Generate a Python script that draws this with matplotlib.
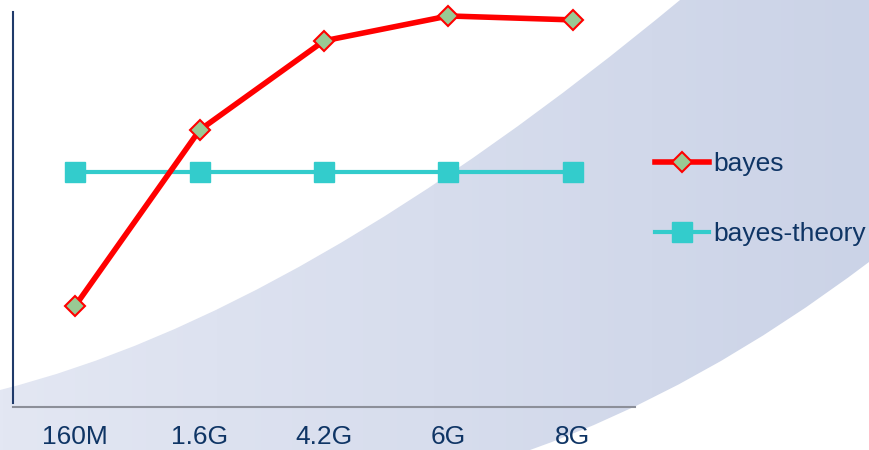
import matplotlib.pyplot as plt
import numpy as np
from matplotlib.path import Path
from matplotlib.patches import PathPatch

# sample sizes along the x axis
sizes = ["160M", "1.6G", "4.2G", "6G", "8G"]
# measured and theoretical values for each size
bayes = [25.6, 70.1, 92.7, 99.0, 98.0]
bayes_theory = [59.5, 59.5, 59.5, 59.5, 59.5]

W, H = 869, 450
fig = plt.figure(figsize=(W / 100, H / 100), dpi=100)
fig.patch.set_facecolor("white")

# background swoosh: a pale blue band sweeping up from the lower left
bg = fig.add_axes([0, 0, 1, 1], zorder=0)
bg.set_xlim(0, W)
bg.set_ylim(H, 0)
bg.axis("off")
verts = [(0, 390), (300, 315), (680, 0),
         (W, 0), (W, 262),
         (700, 390), (530, H),
         (0, H), (0, 390)]
codes = [Path.MOVETO, Path.CURVE3, Path.CURVE3,
         Path.LINETO, Path.LINETO,
         Path.CURVE3, Path.CURVE3,
         Path.LINETO, Path.CLOSEPOLY]
band = PathPatch(Path(verts, codes), facecolor="none", edgecolor="none")
bg.add_patch(band)
left_c = np.array([0xe3, 0xe7, 0xf3]) / 255
right_c = np.array([0xcb, 0xd3, 0xe7]) / 255
t = np.linspace(0, 1, 256)
grad = left_c[None, :] * (1 - t[:, None]) + right_c[None, :] * t[:, None]
img = bg.imshow(grad[None, :, :], extent=(0, W, H, 0), aspect="auto")
img.set_clip_path(band)

# main chart
ax = fig.add_axes([13 / W, 1 - 407 / H, (635 - 13) / W, (407 - 12) / H], zorder=1)
ax.patch.set_alpha(0)
x = np.arange(len(sizes))

ax.plot(x, bayes_theory, color="#33cccc", lw=3, marker="s", ms=14,
        mfc="#33cccc", mec="#33cccc", label="bayes-theory", clip_on=False, zorder=2)
ax.plot(x, bayes, color="#ff0000", lw=4, marker="D", ms=10,
        mfc="#99c994", mec="#ff0000", mew=1.5, label="bayes", clip_on=False, zorder=3)

ax.set_xlim(-0.5, len(sizes) - 0.5)
ax.set_ylim(0, 100)
ax.set_xticks(x)
ax.set_xticklabels(sizes, fontsize=19, color="#0f3565", family="Liberation Sans")
ax.set_yticks([])
ax.tick_params(axis="x", length=0, pad=13)

for s in ["top", "right"]:
    ax.spines[s].set_visible(False)
ax.spines["left"].set_color("#1f3a6a")
ax.spines["left"].set_linewidth(1.5)
ax.spines["left"].set_bounds(1, 100)
ax.spines["bottom"].set_color("#8c8f99")
ax.spines["bottom"].set_linewidth(1.5)

handles, labels = ax.get_legend_handles_labels()
leg = fig.legend(handles[::-1], labels[::-1], loc="center left",
                 bbox_to_anchor=(655 / W, 1 - 199 / H), frameon=False,
                 borderpad=0, borderaxespad=0, handlelength=2.05,
                 handletextpad=0.15, labelspacing=1.75,
                 prop={"family": "Liberation Sans", "size": 19})
for txt in leg.get_texts():
    txt.set_color("#0f3565")

fig.savefig("out.png", dpi=100)
